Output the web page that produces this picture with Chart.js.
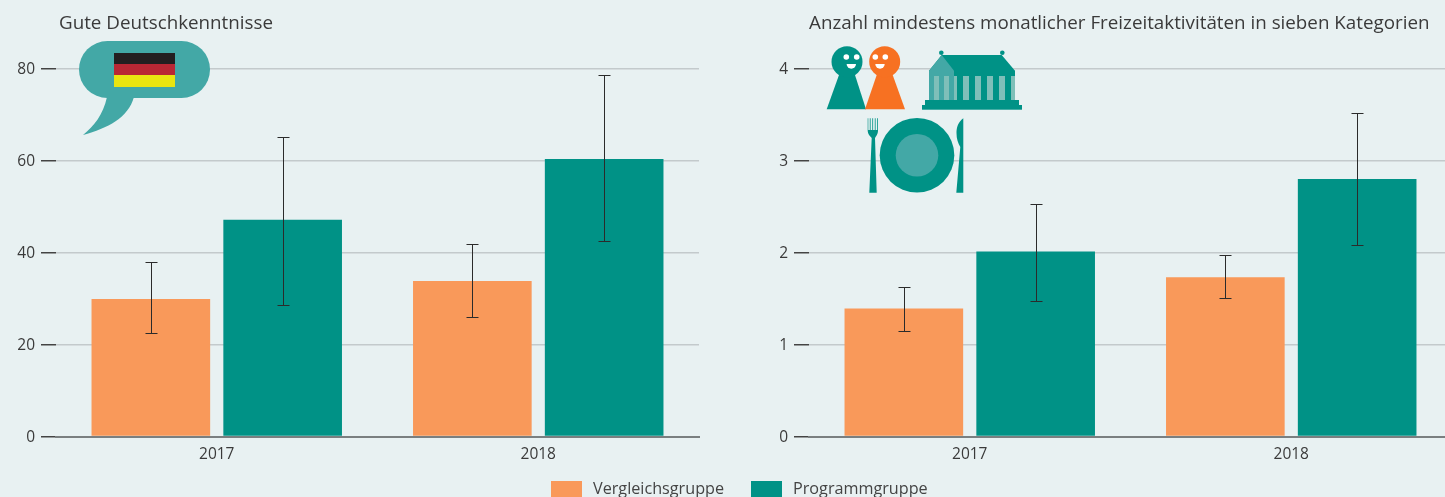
<!DOCTYPE html>
<html lang="de"><head><meta charset="utf-8">
<script src="https://cdn.jsdelivr.net/npm/chart.js@4"></script>
<style>
html,body{margin:0;padding:0;width:1445px;height:497px;overflow:hidden;background:#E8F1F2;font-family:"Open Sans",sans-serif;color:#333}
.box{position:absolute;top:0;width:700px;height:497px}
canvas{display:block}
.t{position:absolute;font-size:18.8px;line-height:22px;white-space:nowrap;color:#3a3a3a}
.sw{position:absolute;top:481px;width:31px;height:20px}
.lg{position:absolute;top:477px;font-size:16.2px;line-height:22px;white-space:nowrap;color:#444}
svg{position:absolute;left:0;top:0;pointer-events:none}
</style></head><body>
<div class="box" style="left:0"><canvas id="c1"></canvas></div>
<div class="box" style="left:753px"><canvas id="c2"></canvas></div>
<div class="t" style="left:59px;top:11px">Gute Deutschkenntnisse</div>
<div class="t" style="left:809px;top:11px">Anzahl mindestens monatlicher Freizeitaktivitäten in sieben Kategorien</div>
<div class="sw" style="left:551px;background:#F9995A"></div><div class="lg" style="left:593px">Vergleichsgruppe</div>
<div class="sw" style="left:751px;background:#009286"></div><div class="lg" style="left:793px">Programmgruppe</div>
<svg width="1445" height="497" viewBox="0 0 1445 497">
 <rect x="79" y="41" width="131" height="57" rx="28.5" fill="#43A8A6"/>
 <path d="M107 97C103 115 94 126 83 135C108 128 128 118 134 97Z" fill="#43A8A6"/>
 <rect x="114" y="53" width="61" height="11" fill="#231F20"/><rect x="114" y="64" width="61" height="11" fill="#B92734"/><rect x="114" y="75" width="61" height="12" fill="#E9E510"/>
 <path d="M826.7 109.3L839 75H855L866 109.3Z" fill="#009286"/><circle cx="847" cy="61.7" r="15.5" fill="#009286"/>
 <path d="M865 109.3L876.7 75H892.7L905 109.3Z" fill="#F77122"/><circle cx="884.7" cy="61.7" r="15.5" fill="#F77122"/>
 <g fill="#fff"><circle cx="846.3" cy="57" r="2.8"/><circle cx="856.7" cy="57" r="2.8"/><path d="M846.6 64h9.4a4.7 4.7 0 0 1-9.4 0Z"/>
 <circle cx="875.3" cy="57" r="2.8"/><circle cx="885.3" cy="57" r="2.8"/><path d="M875.3 64h9.4a4.7 4.7 0 0 1-9.4 0Z"/></g>
 <rect x="929" y="76" width="86" height="24" fill="#009286"/>
 <g fill="#7FBFB9"><rect x="954" y="76" width="3" height="24"/><rect x="963" y="76" width="6" height="24"/><rect x="975" y="76" width="6" height="24"/><rect x="987" y="76" width="6" height="24"/><rect x="999" y="76" width="6" height="24"/><rect x="1011" y="76" width="4" height="24"/></g>
 <path d="M941.7 55H1001.7L1015 70.7V76H929V70.7Z" fill="#009286"/>
 <path d="M929 70.7L941.7 55L954 70.7V76H929Z" fill="#43A8A6"/>
 <rect x="929" y="76" width="25" height="24" fill="#43A8A6"/>
 <g fill="#7FBFB9"><rect x="934" y="76" width="5" height="24"/><rect x="944" y="76" width="5" height="24"/></g>
 <circle cx="941.3" cy="52.7" r="2.3" fill="#009286"/><circle cx="1002.3" cy="52.7" r="2.3" fill="#009286"/>
 <rect x="925" y="100" width="94" height="5" fill="#009286"/><rect x="922" y="105" width="100" height="4.7" fill="#009286"/>
 <circle cx="917" cy="155.3" r="37.3" fill="#009286"/><circle cx="917" cy="155.3" r="21.3" fill="#43A8A6"/>
 <path d="M867.7 118.3H868.3V130H869.8V118.3H870.6V130H872.3V118.3H873.1V130H874.8V118.3H875.6V130H877.2V118.3H878V131C878 134 876 136 875 138L876.7 192.7H869.3L871.7 138C870 136 867.7 134 867.7 131Z" fill="#009286"/>
 <path d="M963.3 118.3C958 122 956.5 128 956.5 133C956.5 139 958 143 960.3 147L956.3 192.7H963.3Z" fill="#009286"/>
</svg>
<script>
const categories = ['2017', '2018'];
const seriesNames = ['Vergleichsgruppe', 'Programmgruppe'];
const deutschVergleich = [29.9, 33.8];
const deutschProgramm = [47.1, 60.3];
const deutschVergleichLow = [22.6, 25.9];
const deutschVergleichHigh = [38.0, 41.9];
const deutschProgrammLow = [28.6, 42.4];
const deutschProgrammHigh = [65.2, 78.5];
const freizeitVergleich = [1.39, 1.73];
const freizeitProgramm = [2.01, 2.80];
const freizeitVergleichLow = [1.15, 1.51];
const freizeitVergleichHigh = [1.63, 1.97];
const freizeitProgrammLow = [1.47, 2.08];
const freizeitProgrammHigh = [2.53, 3.52];
const deutschTicks = [0, 20, 40, 60, 80];
const freizeitTicks = [0, 1, 2, 3, 4];

const FONT = {family: '"Open Sans", sans-serif', size: 15.5};
const errorBars = {
  id: 'errorBars',
  afterDatasetsDraw(chart) {
    const {ctx, scales: {y}} = chart;
    ctx.save();
    ctx.strokeStyle = '#2b2b2b';
    ctx.lineWidth = 1;
    chart.data.datasets.forEach((ds, i) => {
      chart.getDatasetMeta(i).data.forEach((bar, j) => {
        const x = Math.round(bar.x) + 0.5;
        const yl = Math.round(y.getPixelForValue(ds.low[j])) + 0.5;
        const yh = Math.round(y.getPixelForValue(ds.high[j])) + 0.5;
        ctx.beginPath();
        ctx.moveTo(x, yl); ctx.lineTo(x, yh);
        ctx.moveTo(x - 6, yl); ctx.lineTo(x + 6, yl);
        ctx.moveTo(x - 6, yh); ctx.lineTo(x + 6, yh);
        ctx.stroke();
      });
    });
    ctx.restore();
  }
};
function make(id, v, p, vl, vh, pl, ph, ticks) {
  return new Chart(document.getElementById(id), {
    type: 'bar',
    plugins: [errorBars],
    data: {labels: categories, datasets: [
      {label: seriesNames[0], data: v, low: vl, high: vh, backgroundColor: '#F9995A', borderWidth: 0},
      {label: seriesNames[1], data: p, low: pl, high: ph, backgroundColor: '#009286', borderWidth: 0}
    ]},
    options: {
      responsive: false, animation: false,
      layout: {padding: {top: 68.5, right: 1, left: 0, bottom: 0}},
      datasets: {bar: {categoryPercentage: 0.82, barPercentage: 0.9}},
      plugins: {legend: {display: false}, title: {display: false}, tooltip: {enabled: false}},
      scales: {
        x: {
          grid: {display: false, drawTicks: false},
          border: {color: '#7a7f80', width: 2},
          ticks: {color: '#3a3a3a', font: FONT, padding: 9},
          afterFit(s) { s.height = 60.5; }
        },
        y: {
          min: ticks[0], max: ticks[ticks.length - 1],
          afterBuildTicks(s) { s.ticks = ticks.map(value => ({value})); },
          grid: {color: '#C3CACC', lineWidth: 1.5, tickColor: '#444', tickLength: 15},
          border: {display: false},
          ticks: {color: '#3a3a3a', font: FONT, padding: 6, labelOffset: 1},
          afterFit(s) { s.width = 56; }
        }
      }
    }
  });
}
for (const id of ['c1', 'c2']) { const c = document.getElementById(id); c.width = 700; c.height = 497; c.style.width = '700px'; c.style.height = '497px'; }
make('c1', deutschVergleich, deutschProgramm, deutschVergleichLow, deutschVergleichHigh, deutschProgrammLow, deutschProgrammHigh, deutschTicks);
make('c2', freizeitVergleich, freizeitProgramm, freizeitVergleichLow, freizeitVergleichHigh, freizeitProgrammLow, freizeitProgrammHigh, freizeitTicks);
</script>
</body></html>
